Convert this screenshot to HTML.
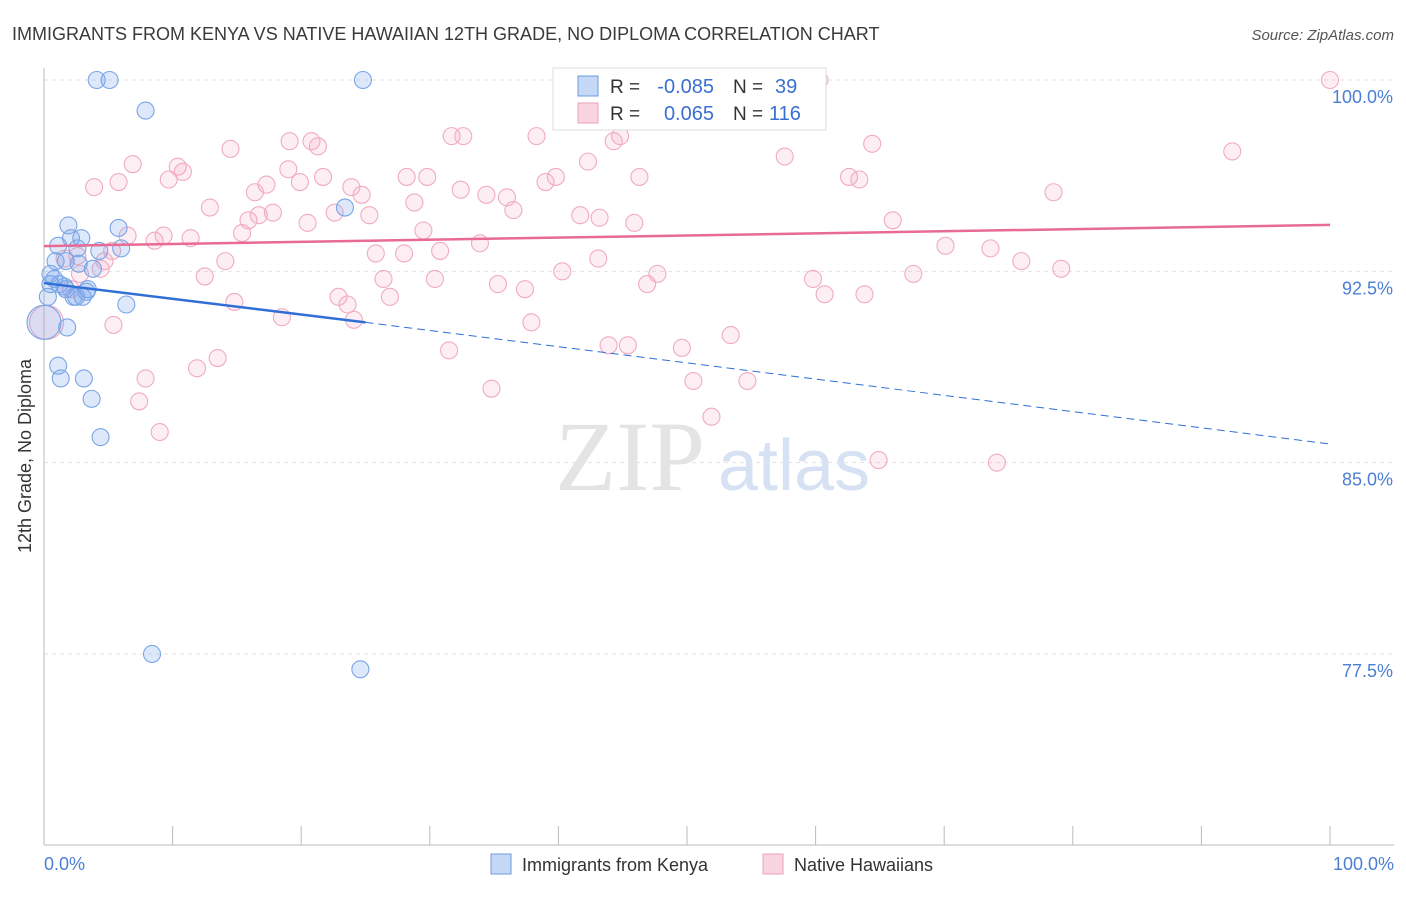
<!DOCTYPE html>
<html><head><meta charset="utf-8"><style>
body{margin:0;background:#fff;font-family:"Liberation Sans",sans-serif}
</style></head><body>
<svg width="1406" height="892" xmlns="http://www.w3.org/2000/svg">
<text x="12" y="40" font-size="18" fill="#3a3a3a">IMMIGRANTS FROM KENYA VS NATIVE HAWAIIAN 12TH GRADE, NO DIPLOMA CORRELATION CHART</text>
<text x="1394" y="40" font-size="15" fill="#555" font-style="italic" text-anchor="end">Source: ZipAtlas.com</text>
<text x="555" y="490" font-size="100" fill="#e4e4e4" font-family="Liberation Serif">ZIP</text>
<text x="718" y="490" font-size="72" fill="#d6e2f3">atlas</text>
<g id="grid"></g>
<line x1="44" y1="68" x2="44" y2="845" stroke="#bbb"/>
<line x1="44" y1="845" x2="1394" y2="845" stroke="#bbb"/>
<g id="xticks"></g>
<text x="31" y="456" font-size="18" fill="#333" text-anchor="middle" transform="rotate(-90 31 456)">12th Grade, No Diploma</text>
<text x="44" y="870" font-size="18" fill="#4a7fd4">0.0%</text>
<text x="1394" y="870" font-size="18" fill="#4a7fd4" text-anchor="end">100.0%</text>
<g id="pts"></g>
<g id="trends"></g>
<g>
<rect x="553" y="68" width="273" height="62" fill="#fff" stroke="#ddd"/>
<rect x="578" y="76" width="20" height="20" fill="rgba(110,160,235,0.4)" stroke="#6b9be0"/>
<text x="610" y="93" font-size="19" fill="#333">R =</text>
<text x="714" y="93" font-size="20" fill="#3a6fd0" text-anchor="end">-0.085</text>
<text x="733" y="93" font-size="19" fill="#333">N =</text>
<text x="775" y="93" font-size="20" fill="#3a6fd0">39</text>
<rect x="578" y="103" width="20" height="20" fill="rgba(240,150,180,0.4)" stroke="#eea0b8"/>
<text x="610" y="120" font-size="19" fill="#333">R =</text>
<text x="714" y="120" font-size="20" fill="#3a6fd0" text-anchor="end">0.065</text>
<text x="733" y="120" font-size="19" fill="#333">N =</text>
<text x="769" y="120" font-size="20" fill="#3a6fd0">116</text>
</g>
<g>
<rect x="491" y="854" width="20" height="20" fill="rgba(110,160,235,0.4)" stroke="#6b9be0"/>
<text x="522" y="871" font-size="18" fill="#333">Immigrants from Kenya</text>
<rect x="763" y="854" width="20" height="20" fill="rgba(240,150,180,0.4)" stroke="#eea0b8"/>
<text x="794" y="871" font-size="18" fill="#333">Native Hawaiians</text>
</g>
</svg>
<script>
const yTicks=[100,92.5,85,77.5];
const yTickLabels=["100.0%","92.5%","85.0%","77.5%"];
const xTicks=[0,10,20,30,40,50,60,70,80,90,100];
const blueX=[4.1,5.1,24.8,7.9,23.4,1.9,5.8,1.1,2.1,2.9,2.6,6.0,4.3,0.9,1.7,2.7,3.8,0.8,1.2,0.5,1.7,2.5,3.3,3.4,0.3,6.4,1.8,1.1,1.3,3.1,3.7,4.4,8.4,24.6,0.0,3.0,2.3,0.5,1.6];
const blueY=[100,100,100,98.8,95.0,94.3,94.2,93.5,93.8,93.8,93.4,93.4,93.3,92.9,92.9,92.8,92.6,92.2,92.0,92.0,91.8,91.5,91.7,91.8,91.5,91.2,90.3,88.8,88.3,88.3,87.5,86.0,77.5,76.9,90.5,91.5,91.5,92.4,91.9];
const pinkX=[41.4,59.3,60.3,100,3.9,6.9,5.8,9.7,10.4,10.8,12.9,14.5,15.4,15.9,16.7,17.3,16.4,17.8,19.1,19.0,19.9,20.8,21.3,21.7,20.5,22.6,23.9,24.7,25.3,25.8,26.4,26.9,28.0,28.2,28.8,29.5,29.8,30.8,30.4,31.7,32.6,32.4,33.9,34.4,35.3,36.0,36.5,37.4,37.9,38.3,39.0,39.8,40.3,41.7,42.3,43.2,43.1,44.3,44.8,45.9,46.3,46.9,47.7,43.9,45.4,49.6,50.5,51.9,53.4,54.7,57.6,59.8,60.7,62.6,63.4,64.4,63.8,66.0,67.6,70.1,73.6,76.0,78.5,79.1,92.4,64.9,74.1,6.5,5.3,4.7,4.4,8.6,9.3,11.4,14.1,12.5,14.8,18.5,22.9,23.6,24.1,13.5,11.9,5.4,7.9,7.4,9.0,31.5,34.8,0.2,1.6,2.6,2.1,2.8];
const pinkY=[100,100,100,100,95.8,96.7,96.0,96.1,96.6,96.4,95.0,97.3,94.0,94.5,94.7,95.9,95.6,94.8,97.6,96.5,96.0,97.6,97.4,96.2,94.4,94.8,95.8,95.5,94.7,93.2,92.2,91.5,93.2,96.2,95.2,94.1,96.2,93.3,92.2,97.8,97.8,95.7,93.6,95.5,92.0,95.4,94.9,91.8,90.5,97.8,96.0,96.2,92.5,94.7,96.8,94.6,93.0,97.6,97.8,94.4,96.2,92.0,92.4,89.6,89.6,89.5,88.2,86.8,90.0,88.2,97.0,92.2,91.6,96.2,96.1,97.5,91.6,94.5,92.4,93.5,93.4,92.9,95.6,92.6,97.2,85.1,85.0,93.9,93.3,92.9,92.6,93.7,93.9,93.8,92.9,92.3,91.3,90.7,91.5,91.2,90.6,89.1,88.7,90.4,88.3,87.4,86.2,89.4,87.9,90.5,93.0,93.1,91.8,92.4];
const blueTrendX=[0,25,100];
const blueTrendY=[92.04,90.5,85.73];
const pinkTrendX=[0,100];
const pinkTrendY=[93.49,94.32];
const NS="http://www.w3.org/2000/svg";
const sx=v=>44+v*12.86;
const sy=v=>80+(100-v)*25.51;
function mk(tag,attrs,parent){const e=document.createElementNS(NS,tag);for(const k in attrs)e.setAttribute(k,attrs[k]);document.getElementById(parent).appendChild(e);return e;}
yTicks.forEach((t,i)=>{
 const l=mk('line',{x1:44,x2:1394,y1:sy(t),y2:sy(t),stroke:'#e2e2e2','stroke-dasharray':'4,4'},'grid');
 
 
 const tx=mk('text',{x:1393,y:sy(t)+23,'font-size':18,fill:'#4a7fd4','text-anchor':'end'},'grid');
 tx.textContent=yTickLabels[i];
 
 
});
xTicks.forEach(t=>{
 const l=mk('line',{x1:sx(t),x2:sx(t),y1:826,y2:845,stroke:'#bbb'},'xticks');
 
 
});
function pt(x,y,blue){
 const big=x<0.3;
 const c=mk('circle',{cx:sx(x),cy:sy(y),r:big?17:8.5,fill:blue?'rgba(120,165,235,0.25)':'rgba(245,160,190,0.18)',stroke:blue?'#7aa5e6':'#f0abc2','stroke-width':1.1},'pts');
 
 
}
pinkX.forEach((x,i)=>pt(x,pinkY[i],false));
blueX.forEach((x,i)=>pt(x,blueY[i],true));
const b1=mk('line',{x1:sx(blueTrendX[0]),y1:sy(blueTrendY[0]),x2:sx(blueTrendX[1]),y2:sy(blueTrendY[1]),stroke:'#2f6fd6','stroke-width':2.5},'trends');


const b2=mk('line',{x1:sx(blueTrendX[1]),y1:sy(blueTrendY[1]),x2:sx(blueTrendX[2]),y2:sy(blueTrendY[2]),stroke:'#2f6fd6','stroke-width':1,'stroke-dasharray':'8,5'},'trends');


const p1=mk('line',{x1:sx(pinkTrendX[0]),y1:sy(pinkTrendY[0]),x2:sx(pinkTrendX[1]),y2:sy(pinkTrendY[1]),stroke:'#e86a95','stroke-width':2.5},'trends');


</script>
</body></html>
